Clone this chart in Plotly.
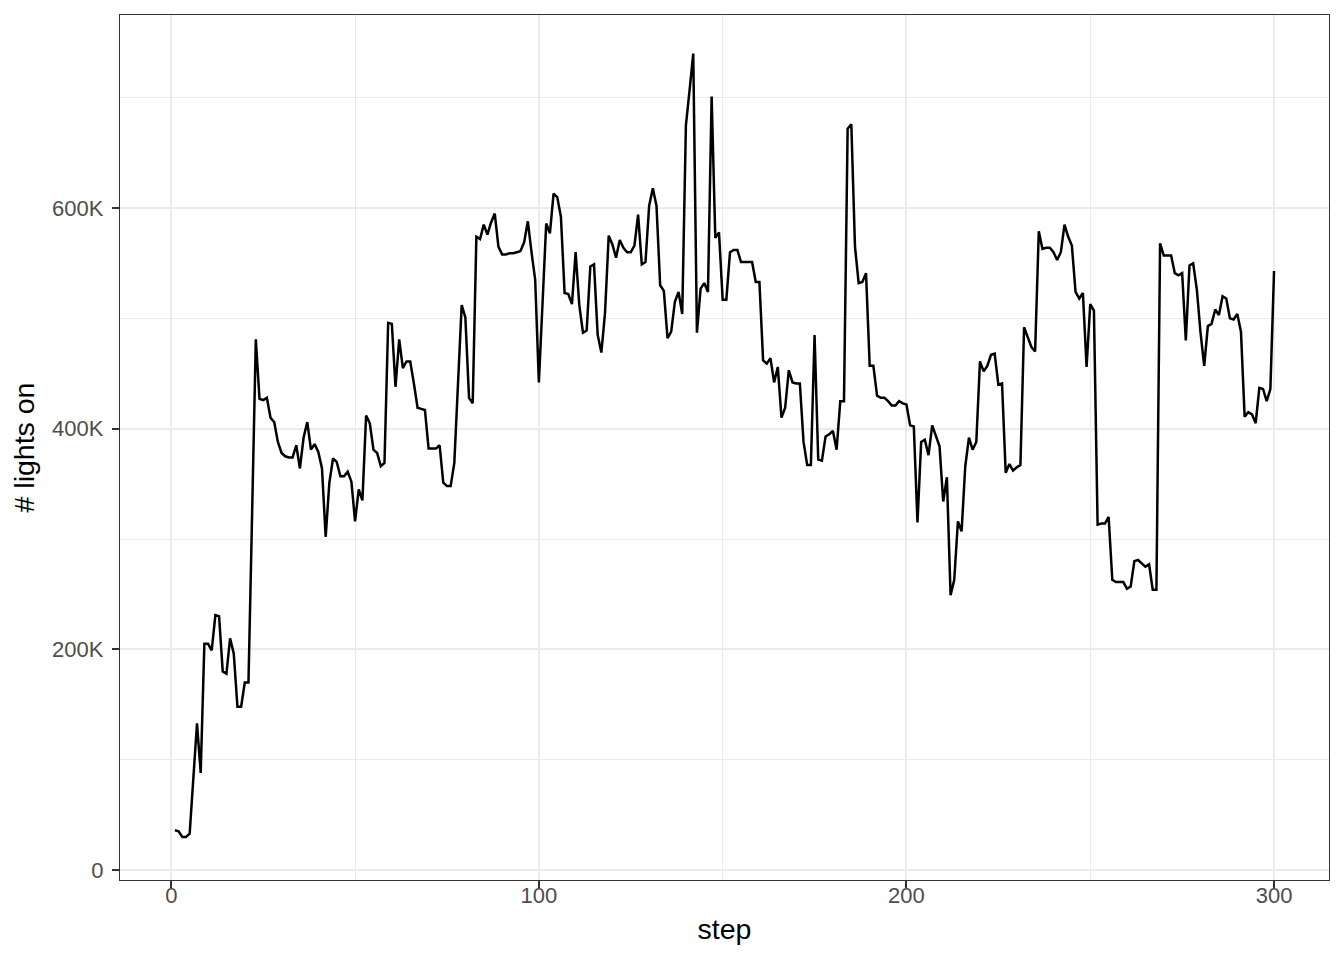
import plotly.graph_objects as go

# ---- data (values in thousands) ----
steps = list(range(1, 301))
lights_k = [
    36, 35, 30, 30, 33, 83, 133, 88, 205, 205,
    199, 231, 230, 180, 178, 210, 196, 148, 148, 170,
    170, 325, 481, 427, 426, 428, 410, 406, 388, 378,
    375, 374, 374, 385, 364, 392, 406, 381, 386, 379,
    364, 302, 351, 373, 370, 357, 357, 361, 352, 316,
    345, 335, 412, 405, 381, 378, 366, 369, 496, 495,
    438, 481, 455, 461, 461, 441, 419, 418, 417, 382,
    382, 382, 385, 351, 348, 348, 369, 440, 512, 501,
    428, 423, 574, 572, 585, 576, 587, 595, 565, 558,
    558, 559, 559, 560, 561, 569, 588, 560, 535, 442,
    510, 586, 577, 613, 610, 592, 523, 522, 513, 560,
    512, 487, 489, 547, 549, 485, 469, 505, 575, 567,
    555, 571, 564, 560, 560, 566, 594, 549, 551, 602,
    618, 602, 530, 525, 482, 488, 515, 524, 504, 675,
    707, 740, 487, 527, 532, 524, 701, 573, 578, 517,
    517, 560, 562, 562, 551, 551, 551, 551, 533, 533,
    462, 459, 464, 442, 456, 410, 419, 453, 442, 441,
    441, 388, 367, 367, 485, 372, 371, 393, 395, 398,
    381, 425, 425, 672, 676, 565, 532, 533, 541, 457,
    457, 430, 428, 428, 425, 421, 421, 425, 423, 422,
    403, 402, 315, 388, 390, 376, 403, 394, 384, 334,
    356, 249, 263, 316, 307, 366, 392, 381, 388, 461,
    452, 457, 467, 468, 440, 441, 360, 368, 362, 365,
    367, 492, 483, 474, 470, 579, 563, 564, 564, 560,
    553, 560, 585, 574, 566, 524, 518, 523, 456, 513,
    507, 313, 314, 314, 320, 263, 261, 261, 261, 255,
    257, 280, 281, 278, 275, 277, 254, 254, 568, 557,
    557, 557, 541, 539, 541, 480, 548, 550, 526, 487,
    457, 493, 495, 508, 503, 520, 518, 500, 499, 504,
    488, 411, 415, 413, 405, 437, 436, 425, 436, 543,
]
lights = [v * 1000 for v in lights_k]

x_ticks = [0, 100, 200, 300]
y_ticks = [0, 200000, 400000, 600000]
y_tick_labels = ["0", "200K", "400K", "600K"]

FONT = "Liberation Sans, Arial, Helvetica, sans-serif"
GRID = "#EBEBEB"
AXIS = "#333333"
TICKTXT = "#4D4D4D"

fig = go.Figure()
fig.add_trace(go.Scatter(
    x=steps, y=lights, mode="lines",
    line=dict(color="black", width=2.5),
    hoverinfo="x+y", showlegend=False,
))

fig.update_layout(
    width=1344, height=960,
    margin=dict(l=112, r=23, t=7, b=88, autoexpand=False),
    paper_bgcolor="white", plot_bgcolor="white",
    font=dict(family=FONT, color="black"),
)

fig.update_xaxes(
    range=[-13.95, 314.95],
    tickmode="array", tickvals=x_ticks,
    ticks="outside", ticklen=7, tickwidth=1.5, tickcolor=AXIS,
    tickfont=dict(size=22, color=TICKTXT, family=FONT),
    ticklabelstandoff=-12,
    showline=True, linecolor=AXIS, linewidth=1.3, mirror=True,
    showgrid=True, gridcolor=GRID, gridwidth=2,
    minor=dict(tickvals=[50, 150, 250], showgrid=True, gridcolor=GRID, gridwidth=1, ticks=""),
    zeroline=False,
    title=dict(text="step", font=dict(size=28.5, color="black", family=FONT), standoff=12),
)
fig.update_yaxes(
    range=[-9060, 775000],
    tickmode="array", tickvals=y_ticks, ticktext=y_tick_labels,
    ticks="outside", ticklen=7, tickwidth=1.5, tickcolor=AXIS,
    tickfont=dict(size=22, color=TICKTXT, family=FONT),
    ticklabelstandoff=4,
    showline=True, linecolor=AXIS, linewidth=1.3, mirror=True,
    showgrid=True, gridcolor=GRID, gridwidth=2,
    minor=dict(tickvals=[100000, 300000, 500000, 700000], showgrid=True, gridcolor=GRID, gridwidth=1, ticks=""),
    zeroline=False,
    title=dict(text="# lights on", font=dict(size=28.5, color="black", family=FONT), standoff=12),
)

fig.write_html("out.html")
